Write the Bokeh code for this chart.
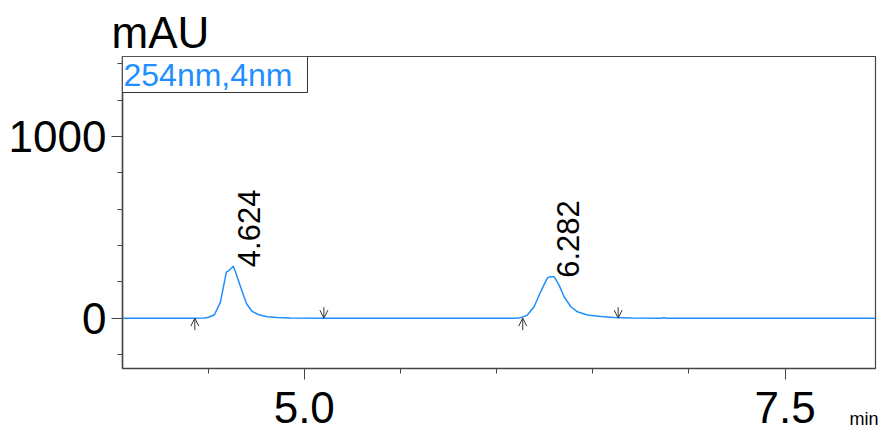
import math
from bokeh.plotting import figure
from bokeh.models import (ColumnDataSource, FixedTicker, PrintfTickFormatter,
                          Label, Arrow, OpenHead, Range1d, Title)
from bokeh.core.properties import value
from bokeh.embed import file_html
from bokeh.resources import INLINE

# ---- data ----
time_min = [4.055, 4.40, 4.480, 4.504, 4.533, 4.564, 4.595, 4.608, 4.631,
            4.643, 4.669, 4.700, 4.729, 4.764, 4.807, 4.860, 4.930, 5.10,
            5.60, 6.00, 6.100, 6.125, 6.160, 6.195, 6.229, 6.264, 6.278,
            6.299, 6.325, 6.351, 6.386, 6.420, 6.472, 6.542, 6.611, 6.700,
            6.85, 6.87, 6.89, 7.30, 7.97]
absorbance_mau = [0, 0, 1, 5, 19, 88, 253, 262, 286,
                  253, 171, 79, 37, 19, 8, 4, 1, 0,
                  0, 0, 0, 2, 17, 63, 145, 222, 228,
                  228, 182, 118, 63, 35, 17, 9, 4, 1,
                  0, 2, 0, 0, 0]

peak_rt = [4.624, 6.282]
peak_height = [286, 228]
peak_labels = ["4.624", "6.282"]
peak_start = [4.431, 6.136]
peak_end = [5.102, 6.632]

x_major = [5.0, 7.5]
x_minor = [4.5, 5.5, 6.0, 6.5, 7.0]
y_major = [0, 1000]
y_minor = [-200, 200, 400, 600, 800, 1200, 1400]

x_lo, x_hi = 4.055, 7.97
y_lo, y_hi = -277, 1440

FONT = "Liberation Sans"
BLUE = "#1f8fff"
DARK = "#333333"
AXIS = "#444444"

p = figure(width=879, height=432, output_backend="svg", toolbar_location=None,
           x_range=Range1d(x_lo, x_hi), y_range=Range1d(y_lo, y_hi),
           min_border_left=122, min_border_right=4, min_border_top=56,
           min_border_bottom=64)
p.title = Title(text="mAU", align="left", offset=-11, standoff=0,
                text_font=FONT, text_font_size="44px",
                text_font_style="normal", text_color="black")
p.background_fill_color = "white"
p.border_fill_color = "white"
p.outline_line_color = AXIS
p.outline_line_width = 1.2
p.xgrid.visible = False
p.ygrid.visible = False

p.xaxis.ticker = FixedTicker(ticks=x_major, minor_ticks=x_minor)
p.xaxis.formatter = PrintfTickFormatter(format="%.1f")
p.yaxis.ticker = FixedTicker(ticks=y_major, minor_ticks=y_minor)
for ax in (p.xaxis[0], p.yaxis[0]):
    ax.axis_line_color = AXIS
    ax.axis_line_width = 1.5
    ax.major_tick_line_color = AXIS
    ax.minor_tick_line_color = AXIS
    ax.major_tick_in = 0
    ax.minor_tick_in = 0
    ax.major_tick_out = 11
    ax.minor_tick_out = 5
    ax.major_label_text_font = FONT
    ax.major_label_text_font_size = "44px"
    ax.major_label_text_color = "black"
p.xaxis[0].major_label_standoff = 12
p.yaxis[0].major_label_standoff = 5

# shrink the x-axis panel so that the unit title below shares the label row
xa = p.xaxis[0]
xa.axis_label = " "
xa.axis_label_text_font_size = "18px"
xa.axis_label_standoff = -44

# time unit, right-aligned under the frame
p.add_layout(Title(text="min", align="right", offset=-3, standoff=5,
                   text_font=FONT, text_font_size="18px",
                   text_font_style="normal", text_color="black"), "below")

# signal
p.line(time_min, absorbance_mau, line_color=BLUE, line_width=1.5)

# peak retention time labels
p.text(x=peak_rt, y=peak_height, text=peak_labels, angle=math.pi / 2,
       text_font=value(FONT), text_font_size="31px", text_color="black",
       text_align="left", text_baseline="alphabetic", x_offset=17, y_offset=1)

# integration markers
up_len, dn_len = 66, 60
src_up = ColumnDataSource(dict(x=peak_start, y0=[-up_len] * len(peak_start),
                               y1=[0] * len(peak_start)))
src_dn = ColumnDataSource(dict(x=peak_end, y0=[dn_len] * len(peak_end),
                               y1=[0] * len(peak_end)))
for src in (src_up, src_dn):
    p.add_layout(Arrow(end=OpenHead(size=8, line_width=1, line_color=DARK),
                       x_start="x", y_start="y0", x_end="x", y_end="y1",
                       source=src, line_color=DARK, line_width=1))

# detector channel box
p.add_layout(Label(x=x_lo, y=y_hi, text="254nm,4nm", text_font=FONT,
                   text_font_size="32px", text_color=BLUE,
                   text_align="left", text_baseline="top",
                   x_offset=0, y_offset=0,
                   border_line_color=DARK, border_line_width=1,
                   background_fill_color="white",
                   padding=dict(left=1, right=15, top=0, bottom=0)))

open("out.html", "w").write(file_html(p, INLINE))
